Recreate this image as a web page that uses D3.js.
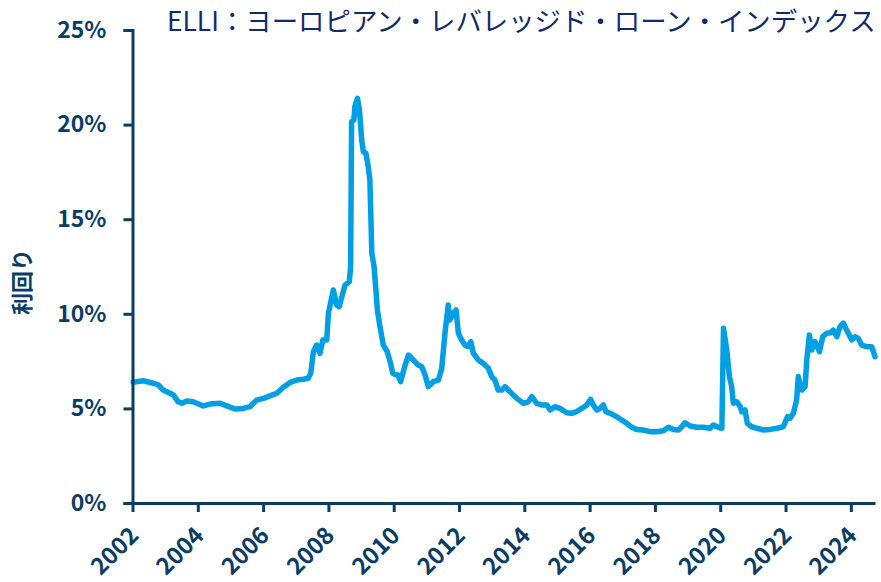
<!DOCTYPE html>
<html><head><meta charset="utf-8">
<script src="https://cdn.jsdelivr.net/npm/d3@7"></script>
<style>
html,body{margin:0;padding:0;background:#fff;}
svg{display:block;}
text{font-family:"Noto Sans CJK JP","Noto Sans",sans-serif;}
</style></head>
<body>
<svg id="chart" width="881" height="582"></svg>
<script>
const title = "ELLI：ヨーロピアン・レバレッジド・ローン・インデックス";
const yLabel = "利回り";
const xTicks = [2002,2004,2006,2008,2010,2012,2014,2016,2018,2020,2022,2024];
const yTicks = [0,5,10,15,20,25];
const years = [2002.02,2002.33,2002.64,2002.79,2002.94,2003.15,2003.25,2003.40,2003.51,2003.66,2003.86,2004.17,2004.37,2004.68,2004.89,2005.14,2005.39,2005.60,2005.80,2006.01,2006.21,2006.42,2006.62,2006.82,2007.03,2007.23,2007.38,2007.46,2007.54,2007.64,2007.74,2007.83,2007.95,2008.00,2008.15,2008.25,2008.33,2008.44,2008.51,2008.64,2008.68,2008.71,2008.78,2008.81,2008.89,2008.95,2009.02,2009.07,2009.15,2009.22,2009.27,2009.33,2009.40,2009.50,2009.58,2009.68,2009.80,2009.89,2009.97,2010.07,2010.14,2010.21,2010.35,2010.45,2010.60,2010.75,2010.86,2010.96,2011.06,2011.21,2011.37,2011.47,2011.57,2011.67,2011.72,2011.83,2011.91,2011.98,2012.08,2012.18,2012.28,2012.36,2012.44,2012.59,2012.74,2012.90,2013.00,2013.10,2013.20,2013.31,2013.41,2013.56,2013.77,2013.97,2014.12,2014.23,2014.38,2014.53,2014.69,2014.79,2014.94,2015.09,2015.30,2015.45,2015.60,2015.76,2015.91,2016.03,2016.11,2016.22,2016.32,2016.42,2016.50,2016.68,2016.83,2016.98,2017.14,2017.29,2017.44,2017.64,2017.85,2018.06,2018.26,2018.41,2018.56,2018.72,2018.82,2018.92,2019.08,2019.28,2019.48,2019.69,2019.79,2019.94,2020.05,2020.10,2020.20,2020.28,2020.35,2020.40,2020.51,2020.61,2020.66,2020.76,2020.83,2020.96,2021.12,2021.32,2021.53,2021.73,2021.93,2022.06,2022.14,2022.24,2022.34,2022.39,2022.50,2022.60,2022.65,2022.73,2022.80,2022.90,2023.04,2023.14,2023.26,2023.38,2023.46,2023.57,2023.67,2023.77,2023.87,2024.03,2024.13,2024.23,2024.33,2024.49,2024.64,2024.69,2024.74];
const yields = [6.38,6.46,6.33,6.24,5.97,5.80,5.71,5.35,5.27,5.39,5.35,5.13,5.23,5.27,5.13,4.97,5.00,5.09,5.44,5.53,5.66,5.80,6.12,6.36,6.50,6.54,6.59,6.86,8.00,8.35,7.91,8.62,8.62,10.03,11.26,10.47,10.38,11.08,11.52,11.70,12.49,20.15,20.24,20.95,21.39,20.77,19.19,18.57,18.48,17.77,17.07,13.20,12.49,10.20,9.32,8.35,8.00,7.47,6.86,6.77,6.77,6.41,7.29,7.82,7.56,7.29,7.20,6.77,6.15,6.41,6.50,7.12,8.97,10.47,9.67,10.03,10.20,8.97,8.62,8.35,8.26,8.53,7.91,7.56,7.38,7.12,6.68,6.50,5.97,5.97,6.15,5.88,5.53,5.27,5.35,5.62,5.27,5.18,5.18,4.92,5.09,5.00,4.77,4.74,4.83,5.00,5.18,5.48,5.18,4.92,5.00,5.18,4.83,4.70,4.56,4.39,4.21,4.00,3.89,3.86,3.77,3.77,3.82,4.00,3.89,3.86,4.03,4.24,4.07,4.00,4.00,3.95,4.12,4.00,3.95,9.23,8.09,6.68,6.15,5.27,5.35,5.09,4.83,4.92,4.21,4.03,3.95,3.86,3.89,3.95,4.03,4.56,4.48,4.74,5.44,6.68,5.97,6.15,7.56,8.88,8.09,8.53,8.00,8.79,8.97,9.00,9.14,8.79,9.32,9.50,9.14,8.62,8.79,8.70,8.35,8.26,8.26,8.00,7.73];

const axisColor = "#0b3d63";
const textColor = "#0b3d63";
const titleColor = "#102a6b";
const lineColor = "#009fe3";

const svg = d3.select("#chart");
const x = d3.scaleLinear().domain([2002, 2024.74]).range([132.5, 875]);
const y = d3.scaleLinear().domain([0, 25]).range([503, 30]);

const data = years.map((t, i) => ({t, v: yields[i]}));

// line
svg.append("path")
  .datum(data)
  .attr("fill", "none")
  .attr("stroke", lineColor)
  .attr("stroke-width", 5.5)
  .attr("stroke-linejoin", "round")
  .attr("stroke-linecap", "round")
  .attr("d", d3.line().x(d => x(d.t)).y(d => y(d.v)));

// y axis
const yAxis = svg.append("g").attr("transform", "translate(132.5,0)")
  .call(d3.axisLeft(y).tickValues(yTicks).tickFormat(d => d + "%").tickSize(9).tickPadding(17));
yAxis.select(".domain").attr("stroke", axisColor).attr("stroke-width", 3);
yAxis.selectAll(".tick line").attr("stroke", axisColor).attr("stroke-width", 3);
yAxis.selectAll(".tick text").attr("fill", textColor).attr("font-size", 23).attr("font-weight", "bold")
  .attr("font-family", '"Noto Sans CJK JP","Noto Sans",sans-serif');

// x axis
const xAxis = svg.append("g").attr("transform", "translate(0,503)")
  .call(d3.axisBottom(x).tickValues(xTicks).tickFormat(d3.format("d")).tickSize(9).tickSizeOuter(0));
xAxis.select(".domain").attr("stroke", axisColor).attr("stroke-width", 3);
xAxis.selectAll(".tick line").attr("stroke", axisColor).attr("stroke-width", 3);
xAxis.selectAll(".tick text")
  .attr("fill", textColor).attr("font-size", 23.5).attr("font-weight", "bold")
  .attr("font-family", '"Noto Sans CJK JP","Noto Sans",sans-serif')
  .attr("text-anchor", "end")
  .attr("dy", null).attr("y", null)
  .attr("transform", "translate(7,34) rotate(-45)");

// title
svg.append("text").attr("x", 167).attr("y", 31)
  .attr("fill", titleColor).attr("font-size", 26.4)
  .text(title);

// y label
svg.append("text")
  .attr("transform", "translate(30,282) rotate(-90)")
  .attr("text-anchor", "middle")
  .attr("fill", textColor).attr("font-size", 22).attr("font-weight", "bold")
  .text(yLabel);
</script>
</body></html>
